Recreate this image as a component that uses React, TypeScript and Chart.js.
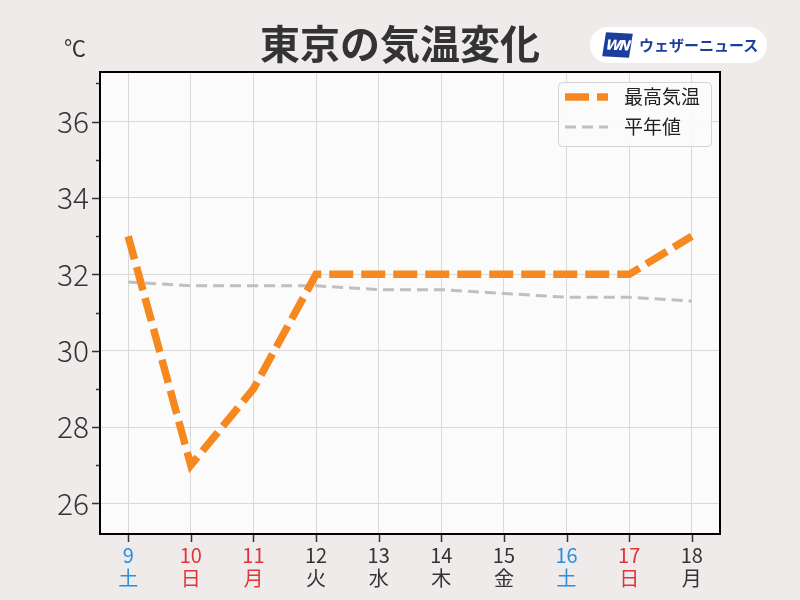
import React, { useEffect, useRef } from "react";
import { Chart, registerables } from "chart.js";

Chart.register(...registerables);

const days = ["9", "10", "11", "12", "13", "14", "15", "16", "17", "18"];
const weekdays = ["土", "日", "月", "火", "水", "木", "金", "土", "日", "月"];
const dayColors = ["#2b8fe0", "#e0343a", "#e0343a", "#333333", "#333333", "#333333", "#333333", "#2b8fe0", "#e0343a", "#333333"];
const maxTemps = [33, 27, 29, 32, 32, 32, 32, 32, 32, 33];
const normalTemps = [31.8, 31.7, 31.7, 31.7, 31.6, 31.6, 31.5, 31.4, 31.4, 31.3];
const yLabels = [26, 28, 30, 32, 34, 36];

const FONT = "'Noto Sans CJK JP', 'Noto Sans', sans-serif";

export default function App() {
  const ref = useRef<HTMLCanvasElement | null>(null);

  useEffect(() => {
    const canvas = ref.current;
    if (!canvas) return;

    const decor = {
      id: "decor",
      beforeDraw(chart: any) {
        const { ctx, chartArea: a } = chart;
        ctx.save();
        ctx.fillStyle = "#fcfbfc";
        ctx.fillRect(a.left, a.top, a.right - a.left, a.bottom - a.top);
        ctx.restore();
      },
      afterDraw(chart: any) {
        const { ctx, chartArea: a } = chart;
        const ys = chart.scales.y;
        const xs = chart.scales.x;
        ctx.save();
        ctx.strokeStyle = "#333333";
        ctx.lineWidth = 1.5;
        for (let v = 26; v <= 37; v++) {
          const py = Math.round(ys.getPixelForValue(v)) + 0.5;
          const len = v % 2 === 0 ? 8 : 4;
          ctx.beginPath();
          ctx.moveTo(a.left - len, py);
          ctx.lineTo(a.left, py);
          ctx.stroke();
        }
        for (let i = 0; i < days.length; i++) {
          const px = Math.round(xs.getPixelForValue(i)) + 0.5;
          ctx.beginPath();
          ctx.moveTo(px, a.bottom);
          ctx.lineTo(px, a.bottom + 8);
          ctx.stroke();
        }
        ctx.strokeStyle = "#000000";
        ctx.lineWidth = 2;
        ctx.strokeRect(a.left, a.top, a.right - a.left, a.bottom - a.top);

        const lx = 558, ly = 82, lw = 153, lh = 64;
        ctx.fillStyle = "rgba(252,251,252,0.9)";
        ctx.strokeStyle = "#d4d4d4";
        ctx.lineWidth = 1;
        ctx.beginPath();
        (ctx as any).roundRect(lx + 0.5, ly + 0.5, lw, lh, 4);
        ctx.fill();
        ctx.stroke();
        const dsets = chart.data.datasets;
        const rows = [97, 127];
        dsets.forEach((ds: any, i: number) => {
          const y = rows[i];
          ctx.save();
          ctx.beginPath();
          ctx.rect(565, y - 10, 43, 20);
          ctx.clip();
          ctx.strokeStyle = ds.borderColor;
          ctx.lineWidth = ds.borderWidth;
          ctx.setLineDash(ds.borderDash);
          ctx.lineCap = "butt";
          ctx.beginPath();
          ctx.moveTo(565, y);
          ctx.lineTo(608, y);
          ctx.stroke();
          ctx.restore();
          ctx.fillStyle = "#222222";
          ctx.font = `19px ${FONT}`;
          ctx.textAlign = "left";
          ctx.textBaseline = "middle";
          ctx.fillText(ds.label, 624, y);
        });
        ctx.restore();
      },
    };

    const chart = new Chart(canvas, {
      type: "line",
      data: {
        datasets: [
          {
            label: "最高気温",
            data: maxTemps.map((v, i) => ({ x: i, y: v })),
            borderColor: "#f5891f",
            borderWidth: 7.5,
            borderDash: [24, 8],
            borderCapStyle: "butt",
            borderJoinStyle: "miter",
            pointRadius: 0,
            tension: 0,
            order: 0,
          },
          {
            label: "平年値",
            data: normalTemps.map((v, i) => ({ x: i, y: v })),
            borderColor: "#bfbfbf",
            borderWidth: 3,
            borderDash: [11, 6],
            borderCapStyle: "butt",
            pointRadius: 0,
            tension: 0,
            order: 1,
          },
        ],
      },
      options: {
        animation: false,
        responsive: false,
        maintainAspectRatio: false,
        layout: { padding: { top: 72, right: 80, left: 0, bottom: 0 } },
        plugins: {
          legend: { display: false },
          tooltip: { enabled: false },
          title: { display: false },
        },
        scales: {
          x: {
            type: "linear",
            min: -0.45,
            max: 9.45,
            afterBuildTicks: (s: any) => {
              s.ticks = days.map((_, i) => ({ value: i }));
            },
            afterFit: (s: any) => {
              s.height = 66;
            },
            ticks: {
              autoSkip: false,
              maxRotation: 0,
              padding: 10,
              callback: (v: any) => {
                const i = Math.round(Number(v));
                return [days[i], weekdays[i]];
              },
              color: (c: any) => dayColors[Math.round(c.tick.value)] || "#333",
              font: { family: FONT, size: 20, lineHeight: 1.15 },
            },
            grid: { color: "#d9d9d9", lineWidth: 1, drawTicks: false },
            border: { display: false },
          },
          y: {
            min: 25.2,
            max: 37.3,
            afterBuildTicks: (s: any) => {
              s.ticks = yLabels.map((v) => ({ value: v }));
            },
            afterFit: (s: any) => {
              s.width = 100;
            },
            ticks: {
              padding: 11,
              color: "#333333",
              font: { family: FONT, size: 30, weight: "300" },
            },
            grid: { color: "#d9d9d9", lineWidth: 1, drawTicks: false },
            border: { display: false },
          },
        },
      },
      plugins: [decor],
    } as any);

    return () => chart.destroy();
  }, []);

  return (
    <div
      style={{
        position: "fixed",
        left: 0,
        top: 0,
        width: 800,
        height: 600,
        background: "#eeebea",
        fontFamily: FONT,
      }}
    >
      <canvas ref={ref} width={800} height={600} style={{ position: "absolute", left: 0, top: 0, width: 800, height: 600 }} />
      <div
        style={{
          position: "absolute",
          left: 0,
          width: 800,
          top: 14,
          textAlign: "center",
          fontSize: 40,
          fontWeight: 700,
          color: "#333333",
          lineHeight: "56px",
        }}
      >
        東京の気温変化
      </div>
      <div style={{ position: "absolute", left: 64, top: 33, fontSize: 22, color: "#333333", lineHeight: "26px" }}>℃</div>
      <div
        style={{
          position: "absolute",
          left: 590,
          top: 27,
          width: 177,
          height: 36,
          borderRadius: 18,
          background: "#ffffff",
        }}
      >
        <div
          style={{
            position: "absolute",
            left: 14,
            top: 6,
            width: 27,
            height: 24,
            background: "#1b3e9e",
            transform: "skewX(-6deg) rotate(3deg)",
            color: "#ffffff",
            fontFamily: "'DejaVu Sans', sans-serif",
            fontStyle: "italic",
            fontWeight: 700,
            fontSize: 14,
            lineHeight: "24px",
            textAlign: "center",
            letterSpacing: -2,
          }}
        >
          WN
        </div>
        <div
          style={{
            position: "absolute",
            left: 49,
            top: 6,
            fontSize: 15,
            fontWeight: 700,
            color: "#1b3e9e",
            lineHeight: "24px",
            whiteSpace: "nowrap",
          }}
        >
          ウェザーニュース
        </div>
      </div>
    </div>
  );
}
